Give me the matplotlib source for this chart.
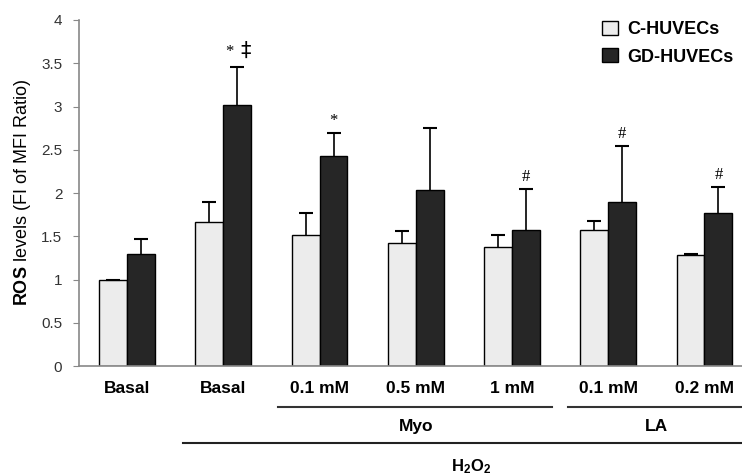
import numpy as np
import matplotlib
matplotlib.use("Agg")
import matplotlib.pyplot as plt

plt.rcParams["font.family"] = ["Liberation Sans", "DejaVu Sans"]
plt.rcParams["mathtext.fontset"] = "custom"
plt.rcParams["mathtext.bf"] = "Liberation Sans:bold"
plt.rcParams["mathtext.rm"] = "Liberation Sans"

groups = ["Basal", "Basal", "0.1 mM", "0.5 mM", "1 mM", "0.1 mM", "0.2 mM"]
c_vals = [1.00, 1.67, 1.52, 1.42, 1.38, 1.57, 1.28]
c_err = [0.00, 0.23, 0.25, 0.14, 0.13, 0.11, 0.01]
gd_vals = [1.29, 3.02, 2.43, 2.03, 1.57, 1.90, 1.77]
gd_err = [0.18, 0.44, 0.26, 0.72, 0.48, 0.64, 0.30]
gd_marks = ["", "* \u2021", "*", "", "#", "#", "#"]

x = np.arange(len(groups))
w = 0.29

fig = plt.figure(figsize=(7.42, 4.76), dpi=100)
ax = fig.add_axes([0.1065, 0.231, 0.8935, 0.727])

ekw = dict(elinewidth=1.2, capthick=1.5, ecolor="black")
b1 = ax.bar(x - w / 2, c_vals, w, color="#ececec", edgecolor="black", linewidth=1.0,
            yerr=[np.zeros(len(c_err)), c_err], capsize=5, error_kw=ekw, label="C-HUVECs")
b2 = ax.bar(x + w / 2, gd_vals, w, color="#262626", edgecolor="black", linewidth=1.0,
            yerr=[np.zeros(len(gd_err)), gd_err], capsize=5, error_kw=ekw, label="GD-HUVECs")
# only upper whiskers: hide the lower caps
for b in (b1, b2):
    caps = b.errorbar.lines[1]
    caps[0].set_visible(False)

# significance marks above GD bars
for i, m in enumerate(gd_marks):
    if not m:
        continue
    top = gd_vals[i] + gd_err[i]
    parts = m.split()
    if len(parts) == 1:
        ax.annotate(m, (x[i] + w / 2, top), xytext=(0, 3), textcoords="offset points",
                    ha="center", va="bottom", fontsize=12, family="Liberation Serif")
    else:
        ax.annotate(parts[0], (x[i] + w / 2, top), xytext=(-6, 5), textcoords="offset points",
                    ha="center", va="bottom", fontsize=12, family="Liberation Serif")
        ax.annotate(parts[1], (x[i] + w / 2, top), xytext=(6, 4), textcoords="offset points",
                    ha="center", va="bottom", fontsize=15, family="DejaVu Sans")

ax.set_xlim(-0.5, 6.39)
ax.set_ylim(0, 4)
ax.set_yticks([0, 0.5, 1, 1.5, 2, 2.5, 3, 3.5, 4])
ax.set_yticklabels(["0", "0.5", "1", "1.5", "2", "2.5", "3", "3.5", "4"])
ax.set_xticks(x)
ax.set_xticklabels(groups, fontweight="bold", fontsize=12.5)
ax.tick_params(axis="x", length=0, pad=11)
ax.tick_params(axis="y", length=4, color="#888888", labelsize=11, labelcolor="#333333", pad=8)

for s in ["top", "right"]:
    ax.spines[s].set_visible(False)
for s in ["left", "bottom"]:
    ax.spines[s].set_color("#888888")
    ax.spines[s].set_linewidth(1.2)

ax.set_ylabel(r"$\mathbf{ROS}$ levels (FI of MFI Ratio)", fontsize=13, labelpad=6)

# group brackets below the axis
tr = ax.get_xaxis_transform()
ax.plot([1.57, 4.42], [-0.1185, -0.1185], transform=tr, clip_on=False, color="#333333", lw=1.5)
ax.plot([4.58, 6.39], [-0.1185, -0.1185], transform=tr, clip_on=False, color="#333333", lw=1.5)
ax.plot([0.58, 6.39], [-0.2225, -0.2225], transform=tr, clip_on=False, color="#222222", lw=1.5)
ax.text(3.0, -0.176, "Myo", transform=tr, ha="center", va="center", fontweight="bold", fontsize=12.5)
ax.text(5.5, -0.176, "LA", transform=tr, ha="center", va="center", fontweight="bold", fontsize=12.5)
ax.text(3.57, -0.292, r"$\mathbf{H_2O_2}$", transform=tr, ha="center", va="center", fontsize=12)

ax.legend(loc="upper left", bbox_to_anchor=(0.765, 1.045), frameon=False,
          handlelength=0.85, handleheight=0.85, handletextpad=0.55,
          prop=dict(weight="bold", size=13), labelspacing=0.55)

fig.savefig("out.png", dpi=100)
